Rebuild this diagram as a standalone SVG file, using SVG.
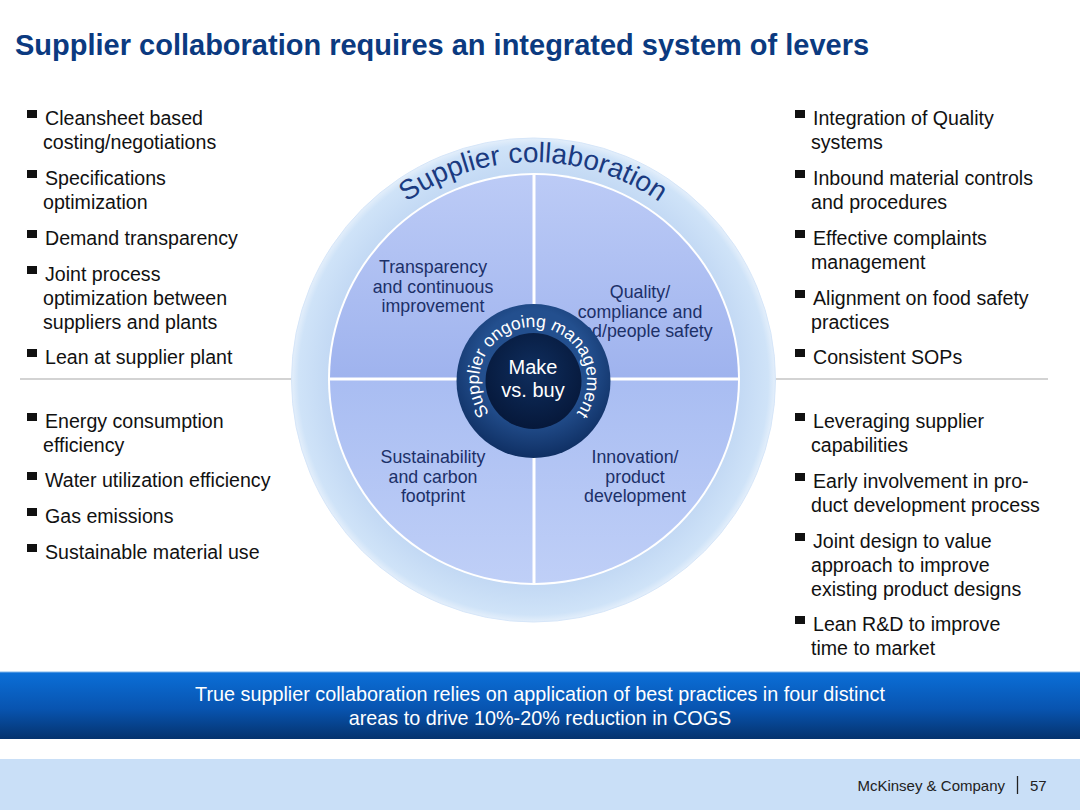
<svg xmlns="http://www.w3.org/2000/svg" width="1080" height="810" viewBox="0 0 1080 810">
<defs>
<style>
.t{font-family:"Liberation Sans",Arial,sans-serif;}
.title{font-size:29px;font-weight:bold;fill:#0b3a80;}
.b{font-size:19.6px;fill:#111;}
.q{font-size:17.8px;fill:#1c3068;text-anchor:middle;}
.w{fill:#fff;}
.bar{font-size:19.8px;fill:#fff;text-anchor:middle;}
.foot{font-size:15px;fill:#222;}
.sq{fill:#111;}
</style>
<linearGradient id="barG" x1="0" y1="0" x2="0" y2="1">
<stop offset="0" stop-color="#0b6fd8"/>
<stop offset="0.55" stop-color="#0854b0"/>
<stop offset="1" stop-color="#05336e"/>
</linearGradient>
<radialGradient id="ringG" cx="0.5" cy="0.5" r="0.5">
<stop offset="0.85" stop-color="#c3d9f4"/>
<stop offset="0.97" stop-color="#cfe3f8"/>
<stop offset="1" stop-color="#e4effb"/>
</radialGradient>
<linearGradient id="qTop" x1="0" y1="0" x2="0" y2="1">
<stop offset="0" stop-color="#bccbf6"/>
<stop offset="1" stop-color="#9fb3ee"/>
</linearGradient>
<linearGradient id="qBot" x1="0" y1="0" x2="0" y2="1">
<stop offset="0" stop-color="#a9bdf2"/>
<stop offset="1" stop-color="#bfcff7"/>
</linearGradient>
<radialGradient id="ringD" cx="0.5" cy="0.4" r="0.6">
<stop offset="0.6" stop-color="#234f8e"/>
<stop offset="1" stop-color="#0f2f63"/>
</radialGradient>
<radialGradient id="coreD" cx="0.5" cy="0.4" r="0.6">
<stop offset="0" stop-color="#0f2e5e"/>
<stop offset="1" stop-color="#06183a"/>
</radialGradient>
<path id="outerArc" d="M314,381 A219,219 0 0 1 752,381"/>
<path id="innerArc" d="M533,435 A54,54 0 1 1 533,327 A54,54 0 1 1 533,435"/>
</defs>
<rect x="0" y="0" width="1080" height="810" fill="#fff"/>

<g id="title">
<text class="t title" x="15" y="55">Supplier collaboration requires an integrated system of levers</text>
</g>

<g id="connectors">
<line x1="20" y1="379" x2="1048" y2="379" stroke="#c4c4c4" stroke-width="1.5"/>
</g>

<g id="wheel">
<circle cx="533.5" cy="380" r="242" fill="url(#ringG)" stroke="#d6e6f9" stroke-width="1"/>
<circle cx="534" cy="379" r="206" fill="#fff"/>
<path d="M532.5,377.5 L532.5,175 A204,204 0 0 0 330,377.5 Z" fill="url(#qTop)"/>
<path d="M535.5,377.5 L535.5,175 A204,204 0 0 1 738,377.5 Z" fill="url(#qTop)"/>
<path d="M532.5,380.5 L330,380.5 A204,204 0 0 0 532.5,583 Z" fill="url(#qBot)"/>
<path d="M535.5,380.5 L738,380.5 A204,204 0 0 1 535.5,583 Z" fill="url(#qBot)"/>
<text class="t" font-size="28" fill="#1a3a80"><textPath href="#outerArc" startOffset="50%" text-anchor="middle">Supplier collaboration</textPath></text>
</g>

<g id="quad-transparency">
<text class="t q" x="433" y="273">Transparency</text>
<text class="t q" x="433" y="293">and continuous</text>
<text class="t q" x="433" y="312">improvement</text>
</g>
<g id="quad-quality">
<text class="t q" x="640" y="298">Quality/</text>
<text class="t q" x="640" y="318">compliance and</text>
<text class="t q" x="640" y="337">food/people safety</text>
</g>
<g id="quad-sustainability">
<text class="t q" x="433" y="463">Sustainability</text>
<text class="t q" x="433" y="483">and carbon</text>
<text class="t q" x="433" y="502">footprint</text>
</g>
<g id="quad-innovation">
<text class="t q" x="635" y="463">Innovation/</text>
<text class="t q" x="635" y="483">product</text>
<text class="t q" x="635" y="502">development</text>
</g>

<g id="center">
<circle cx="533.5" cy="381" r="77" fill="url(#ringD)"/>
<circle cx="533.5" cy="381" r="48" fill="url(#coreD)"/>
<text class="t w" font-size="17.5"><textPath href="#innerArc" startOffset="50%" text-anchor="middle">Supplier ongoing management</textPath></text>
<text class="t w" font-size="20" x="533" y="374" text-anchor="middle">Make</text>
<text class="t w" font-size="20" x="533" y="397" text-anchor="middle">vs. buy</text>
</g>

<g id="left-top">
<rect class="sq" x="27" y="110" width="10" height="8"/>
<text class="t b" x="45" y="125">Cleansheet based</text>
<text class="t b" x="43" y="149">costing/negotiations</text>
<rect class="sq" x="27" y="170" width="10" height="8"/>
<text class="t b" x="45" y="185">Specifications</text>
<text class="t b" x="43" y="209">optimization</text>
<rect class="sq" x="27" y="230" width="10" height="8"/>
<text class="t b" x="45" y="245">Demand transparency</text>
<rect class="sq" x="27" y="266" width="10" height="8"/>
<text class="t b" x="45" y="281">Joint process</text>
<text class="t b" x="43" y="305">optimization between</text>
<text class="t b" x="43" y="329">suppliers and plants</text>
<rect class="sq" x="27" y="349" width="10" height="8"/>
<text class="t b" x="45" y="364">Lean at supplier plant</text>
</g>

<g id="left-bottom">
<rect class="sq" x="27" y="413" width="10" height="8"/>
<text class="t b" x="45" y="428">Energy consumption</text>
<text class="t b" x="43" y="452">efficiency</text>
<rect class="sq" x="27" y="472" width="10" height="8"/>
<text class="t b" x="45" y="487">Water utilization efficiency</text>
<rect class="sq" x="27" y="508" width="10" height="8"/>
<text class="t b" x="45" y="523">Gas emissions</text>
<rect class="sq" x="27" y="544" width="10" height="8"/>
<text class="t b" x="45" y="559">Sustainable material use</text>
</g>

<g id="right-top">
<rect class="sq" x="795" y="110" width="10" height="8"/>
<text class="t b" x="813" y="125">Integration of Quality</text>
<text class="t b" x="811" y="149">systems</text>
<rect class="sq" x="795" y="170" width="10" height="8"/>
<text class="t b" x="813" y="185">Inbound material controls</text>
<text class="t b" x="811" y="209">and procedures</text>
<rect class="sq" x="795" y="230" width="10" height="8"/>
<text class="t b" x="813" y="245">Effective complaints</text>
<text class="t b" x="811" y="269">management</text>
<rect class="sq" x="795" y="290" width="10" height="8"/>
<text class="t b" x="813" y="305">Alignment on food safety</text>
<text class="t b" x="811" y="329">practices</text>
<rect class="sq" x="795" y="349" width="10" height="8"/>
<text class="t b" x="813" y="364">Consistent SOPs</text>
</g>

<g id="right-bottom">
<rect class="sq" x="795" y="413" width="10" height="8"/>
<text class="t b" x="813" y="428">Leveraging supplier</text>
<text class="t b" x="811" y="452">capabilities</text>
<rect class="sq" x="795" y="473" width="10" height="8"/>
<text class="t b" x="813" y="488">Early involvement in pro-</text>
<text class="t b" x="811" y="512">duct development process</text>
<rect class="sq" x="795" y="533" width="10" height="8"/>
<text class="t b" x="813" y="548">Joint design to value</text>
<text class="t b" x="811" y="572">approach to improve</text>
<text class="t b" x="811" y="596">existing product designs</text>
<rect class="sq" x="795" y="616" width="10" height="8"/>
<text class="t b" x="813" y="631">Lean R&amp;D to improve</text>
<text class="t b" x="811" y="655">time to market</text>
</g>

<g id="conclusion">
<rect x="0" y="672" width="1080" height="67" fill="url(#barG)"/>
<line x1="0" y1="672" x2="1080" y2="672" stroke="#7fb4ea" stroke-width="1"/>
<text class="t bar" x="540" y="701">True supplier collaboration relies on application of best practices in four distinct</text>
<text class="t bar" x="540" y="725">areas to drive 10%-20% reduction in COGS</text>
</g>

<g id="footer">
<rect x="0" y="759" width="1080" height="51" fill="#c9dff7"/>
<text class="t foot" x="1005" y="791" text-anchor="end">McKinsey &amp; Company</text>
<line x1="1017.5" y1="776" x2="1017.5" y2="794" stroke="#222" stroke-width="1.3"/>
<text class="t foot" x="1030" y="791">57</text>
</g>
</svg>
